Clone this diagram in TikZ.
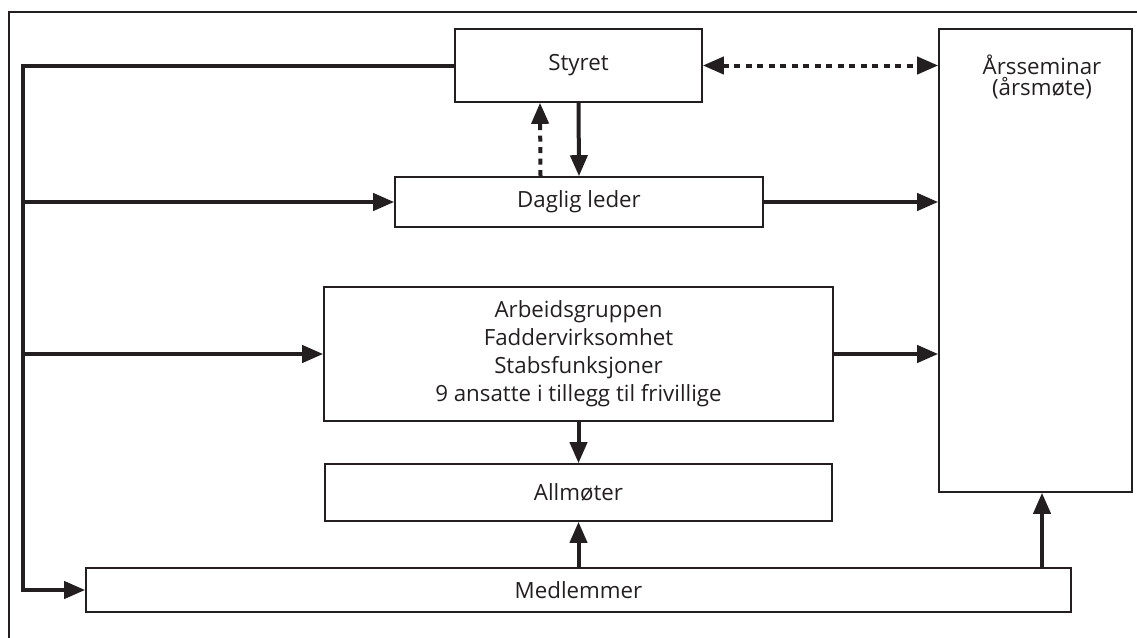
\documentclass[tikz,border=0pt]{standalone}
\usepackage{fontspec}
\setmainfont{Open Sans}
\usetikzlibrary{arrows.meta}
\definecolor{ink}{HTML}{231F20}
\begin{document}
\begin{tikzpicture}[x=1pt,y=-1pt,
  box/.style={draw=ink, line width=1.6pt, rectangle, inner sep=0pt, align=center, text=ink,
    font=\fontsize{22.3}{28}\selectfont},
  conn/.style={draw=ink, line width=4pt, line join=miter},
  arr/.style={conn, -{Triangle[length=21pt,width=17pt]}},
  dots/.style={conn, dash pattern=on 6pt off 5.5pt},
  frame/.style={draw=ink, line width=2pt}
]
\useasboundingbox (0,0) rectangle (1137,637);
% outer frame
\coordinate (fb) at (9,640);
\coordinate (ftl) at (9,12);
\coordinate (ftr) at (1140,12);
\draw[frame] (fb) -- (ftl) -- (ftr);

% boxes
\node[box, minimum width=247pt, minimum height=73pt] (sty) at (578.5,65.5) {Styret};
\node[box, minimum width=368pt, minimum height=50pt] (dag) at (579,202) {Daglig leder};
\node[box, minimum width=509pt, minimum height=134pt] (arb) at (578.5,354)
  {Arbeidsgruppen\\Faddervirksomhet\\Stabsfunksjoner\\9 ansatte i tillegg til frivillige};
\node[box, minimum width=507pt, minimum height=57pt] (all) at (578.5,492.5) {Allmøter};
\node[box, minimum width=985pt, minimum height=44pt] (med) at (578.5,590) {Medlemmer};
\node[box, minimum width=193pt, minimum height=463pt] (ars) at (1035.5,260.5) {};
\node[text=ink, align=center, font=\fontsize{22.3}{21.5}\selectfont, anchor=north] (arst) at (1042,51)
  {Årsseminar\\(årsmøte)};

% left bus
\coordinate (btop) at (23,65.5);
\coordinate (bbot) at (23,590);
\draw[arr] (sty.west) -- (btop) -- (bbot) -- (med.west);
\draw[arr] (btop |- dag.west) -- (dag.west);
\draw[arr] (btop |- arb.west) -- (arb.west);

% vertical flows
\draw[arr] (sty.south) -- (dag.north);
\draw[dots, -{Triangle[length=21pt,width=17pt]}] ([xshift=-38.5pt]dag.north) -- ([xshift=-38.5pt]sty.south);
\draw[arr] (arb.south) -- (all.north);
\draw[arr] (med.north) -- (all.south);
\coordinate (mx) at (1042,568);
\draw[arr] (mx) -- (mx |- ars.south);

% to Årsseminar
\draw[dots, {Triangle[length=21pt,width=17pt]}-{Triangle[length=21pt,width=17pt]}] (sty.east) -- (sty.east -| ars.west);
\draw[arr] (dag.east) -- (dag.east -| ars.west);
\draw[arr] (arb.east) -- (arb.east -| ars.west);
\end{tikzpicture}
\end{document}
